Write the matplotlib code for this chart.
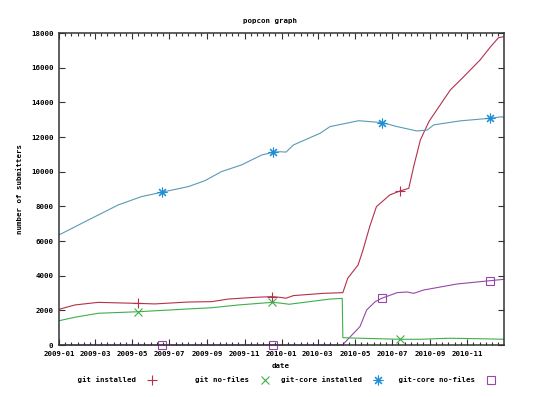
import matplotlib
matplotlib.use("Agg")
import matplotlib.pyplot as plt
import matplotlib.dates as mdates
from matplotlib.lines import Line2D
import pandas as pd

# git installed (red, +)
red_dates = ["2009-01-01", "2009-01-27", "2009-03-06", "2009-05-11", "2009-06-07", "2009-08-01",
             "2009-09-08", "2009-10-05", "2009-11-18", "2009-12-16", "2009-12-29", "2010-01-08",
             "2010-01-20", "2010-03-10", "2010-04-11", "2010-04-19", "2010-05-06", "2010-05-14",
             "2010-05-25", "2010-06-05", "2010-06-27", "2010-07-14", "2010-07-28", "2010-08-05",
             "2010-08-16", "2010-08-30", "2010-09-23", "2010-10-04", "2010-10-26", "2010-11-22",
             "2010-12-09", "2010-12-22", "2010-12-31"]
red_vals = [2060, 2310, 2460, 2400, 2370, 2480,
            2500, 2650, 2750, 2790, 2750, 2700,
            2850, 2980, 3020, 3850, 4620, 5480,
            6830, 7980, 8660, 8890, 9040, 10290,
            11830, 12890, 14140, 14710, 15480, 16450,
            17210, 17730, 17790]
red_marks = ["2009-05-11", "2009-12-16", "2010-07-14"]

# git no-files (green, x)
green_dates = ["2009-01-01", "2009-01-27", "2009-03-06", "2009-05-11", "2009-08-01", "2009-09-08",
               "2009-10-22", "2009-12-16", "2009-12-29", "2010-01-13", "2010-03-21", "2010-04-10",
               "2010-04-11", "2010-05-09", "2010-07-14", "2010-08-16", "2010-10-01", "2010-11-24",
               "2010-12-31"]
green_vals = [1400, 1600, 1830, 1920, 2080, 2150,
              2310, 2460, 2420, 2350, 2650, 2690,
              420, 390, 330, 330, 390, 360,
              330]
green_marks = ["2009-05-11", "2009-12-16", "2010-07-14"]

# git-core installed (blue, *)
blue_dates = ["2009-01-01", "2009-02-18", "2009-04-08", "2009-05-16", "2009-06-18", "2009-08-01",
              "2009-08-28", "2009-09-24", "2009-10-27", "2009-11-29", "2009-12-18", "2009-12-29",
              "2010-01-08", "2010-01-20", "2010-03-05", "2010-03-21", "2010-05-07", "2010-06-14",
              "2010-07-09", "2010-08-10", "2010-08-27", "2010-09-07", "2010-10-20", "2010-12-08",
              "2010-12-28", "2010-12-31"]
blue_vals = [6350, 7210, 8080, 8560, 8810, 9140,
             9480, 10000, 10390, 10960, 11120, 11150,
             11130, 11540, 12220, 12600, 12940, 12830,
             12600, 12350, 12400, 12700, 12930, 13080,
             13170, 13100]
blue_marks = ["2009-06-18", "2009-12-18", "2010-06-14", "2010-12-08"]

# git-core no-files (purple, square)
purple_dates = ["2009-01-01", "2009-06-18", "2009-12-18", "2010-04-11", "2010-04-13", "2010-05-09",
                "2010-05-20", "2010-06-03", "2010-06-14", "2010-07-09", "2010-07-25", "2010-08-05",
                "2010-08-21", "2010-10-15", "2010-12-08", "2010-12-31"]
purple_vals = [0, 0, 0, 0, 100, 1060,
               2020, 2500, 2700, 3020, 3060, 2980,
               3170, 3520, 3710, 3790]
purple_marks = ["2009-06-18", "2009-12-18", "2010-06-14", "2010-12-08"]

labels = ["git installed", "git no-files", "git-core installed", "git-core no-files"]

FONT = dict(family="DejaVu Sans Mono", weight="bold", size=5.3)

fig = plt.figure(figsize=(5.4, 3.97), dpi=100)
ax = fig.add_axes([59 / 540, 52 / 397, 445 / 540, 312 / 397])

series = [
    (red_dates, red_vals, red_marks, "#b5304a", "#b5304a", "+", 7, False),
    (green_dates, green_vals, green_marks, "#3fae4a", "#3fae4a", "x", 6, False),
    (blue_dates, blue_vals, blue_marks, "#5a9ab4", "#1e8fd6", (8, 2, 0), 7, False),
    (purple_dates, purple_vals, purple_marks, "#9648a8", "#9648a8", "s", 6, True),
]
for dts, vals, marks, lc, mc, mk, ms, noclip in series:
    x = pd.to_datetime(dts)
    idx = [dts.index(m) for m in marks]
    ax.plot(x, vals, color=lc, lw=0.8, marker=mk, markevery=idx, ms=ms,
            mec=mc, mfc="none", mew=0.8, clip_on=not noclip, zorder=1.5 if noclip else 2)

ax.set_xlim(pd.Timestamp("2009-01-01"), pd.Timestamp("2010-12-31"))
ax.set_ylim(0, 18000)
ax.set_yticks(range(0, 18001, 2000))
ax.xaxis.set_major_locator(mdates.MonthLocator(bymonth=[1, 3, 5, 7, 9, 11]))
ax.xaxis.set_major_formatter(mdates.DateFormatter("%Y-%m"))
ax.xaxis.set_minor_locator(mdates.DayLocator(bymonthday=[1, 11, 21]))
ax.tick_params(which="both", direction="in", top=True, right=True, width=0.8, colors="#333333")
ax.tick_params(which="major", length=4.5, pad=4)
ax.tick_params(which="minor", length=2)
for t in ax.get_xticklabels() + ax.get_yticklabels():
    t.set_fontproperties(matplotlib.font_manager.FontProperties(**FONT))
    t.set_color("black")
for s in ax.spines.values():
    s.set_color("#333333")
    s.set_linewidth(1.1)
    s.set_zorder(3)

fig.text(0.5, 1 - 20.5 / 397, "popcon graph", ha="center", va="center", **FONT)
fig.text(281 / 540, 1 - 366 / 397, "date", ha="center", va="center", **FONT)
fig.text(20 / 540, 1 - 189 / 397, "number of submitters", ha="center", va="center",
         rotation=90, **FONT)

handles = [Line2D([], [], ls="none", marker=mk, ms=ms, mec=mc, mfc="none", mew=0.8)
           for _, _, _, _, mc, mk, ms, _ in series]
fig.legend(handles, [l.rjust(18) for l in labels], loc="center", ncol=4,
           bbox_to_anchor=(275 / 540, 1 - 380 / 397), frameon=False, markerfirst=False,
           prop=matplotlib.font_manager.FontProperties(**FONT),
           handlelength=1.0, handletextpad=1.67, columnspacing=1.67, borderpad=0)

fig.savefig("out.png", dpi=100)
